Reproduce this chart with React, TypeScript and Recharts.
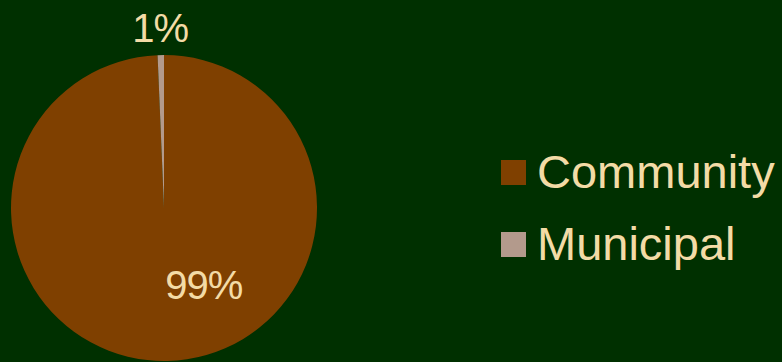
import { Cell, Legend, Pie, PieChart } from 'recharts';

const categories = ['Community', 'Municipal'];
const shares = [99.33, 0.67];
const colors = ['#7f4000', '#b39a8c'];

const data = categories.map((name, i) => ({ name, value: shares[i] }));

const BG = '#003000';
const INK = '#f3dba6';
const FONT = '"Liberation Sans", Arial, sans-serif';
const RAD = Math.PI / 180;

function renderLabel(props: any) {
  const { cx, cy, outerRadius, midAngle, index, percent } = props;
  let x: number;
  let y: number;
  if (index === 0) {
    // big slice: label sits inside, lower right of centre
    x = cx + outerRadius * 0.26;
    y = cy + outerRadius * 0.5;
  } else {
    // thin slice: label above the rim
    x = cx + (outerRadius + 27) * Math.cos(-midAngle * RAD);
    y = cy + (outerRadius + 27) * Math.sin(-midAngle * RAD);
  }
  return (
    <text x={x} y={y} fill={INK} fontSize={40} letterSpacing={-1} fontFamily={FONT} textAnchor="middle" dominantBaseline="central">
      {Math.round(percent * 100)}%
    </text>
  );
}

function LegendBox() {
  return (
    <div style={{ fontFamily: FONT }}>
      {data.map((d, i) => (
        <div key={d.name} style={{ display: 'flex', alignItems: 'center', height: 72 }}>
          <span style={{ width: 25, height: 25, background: colors[i], display: 'inline-block', marginRight: 11 }} />
          <span style={{ color: INK, fontSize: 47, lineHeight: '72px' }}>{d.name}</span>
        </div>
      ))}
    </div>
  );
}

export default function App() {
  return (
    <div style={{ position: 'fixed', left: 0, top: 0, width: 782, height: 362, background: BG }}>
      <PieChart width={782} height={362} margin={{ top: 0, right: 0, bottom: 0, left: 0 }}>
        <Pie
          data={data}
          dataKey="value"
          nameKey="name"
          cx={164}
          cy={208}
          outerRadius={153}
          startAngle={90}
          endAngle={-270}
          stroke="none"
          label={renderLabel}
          labelLine={false}
          isAnimationActive={false}
        >
          {data.map((d, i) => (
            <Cell key={d.name} fill={colors[i]} />
          ))}
        </Pie>
        <Legend content={<LegendBox />} layout="vertical" wrapperStyle={{ left: 501, top: 136, width: 281 }} />
      </PieChart>
    </div>
  );
}
